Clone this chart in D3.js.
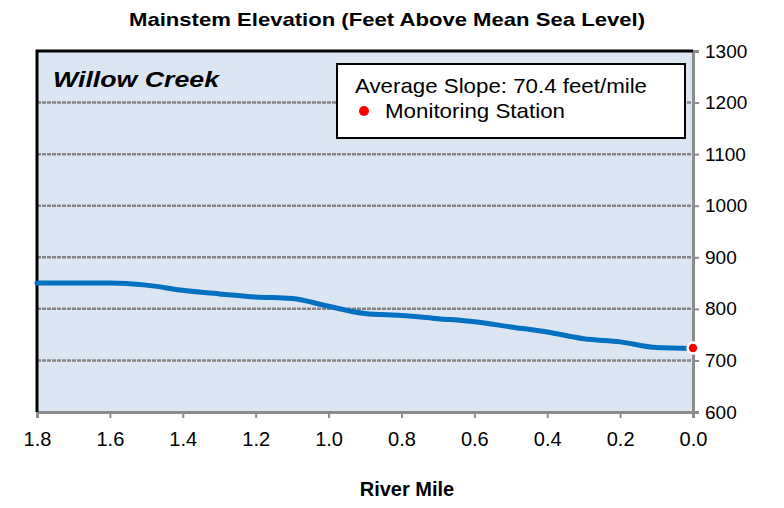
<!DOCTYPE html>
<html>
<head>
<meta charset="utf-8">
<script src="https://cdn.jsdelivr.net/npm/d3@7/dist/d3.min.js"></script>
<style>
  body { margin: 0; background: #fff; }
  text { font-family: "Liberation Sans", Arial, sans-serif; }
</style>
</head>
<body>
<svg id="chart" width="784" height="508"></svg>
<script>
// river mile vs elevation (feet)
var riverMile = [1.8, 1.7, 1.6, 1.5, 1.4, 1.3, 1.2, 1.1, 1.0, 0.9, 0.8, 0.7, 0.6, 0.5, 0.4, 0.3, 0.2, 0.1, 0.0];
var elevation = [850, 850, 850, 846, 836, 829, 823, 820, 805, 791, 787, 781, 775, 765, 755, 742, 736, 725, 723];
var stationMile = [0.0];
var stationElev = [724];
var xTicks = [1.8, 1.6, 1.4, 1.2, 1.0, 0.8, 0.6, 0.4, 0.2, 0.0];
var yTicks = [600, 700, 800, 900, 1000, 1100, 1200, 1300];

var svg = d3.select("#chart");
var plotLeft = 37, plotRight = 693, plotTop = 51, plotBottom = 412;

var x = d3.scaleLinear().domain([1.8, 0]).range([plotLeft, plotRight]);
var y = d3.scaleLinear().domain([600, 1300]).range([plotBottom, plotTop]);

// plot background
svg.append("rect")
  .attr("x", plotLeft).attr("y", plotTop)
  .attr("width", plotRight - plotLeft).attr("height", plotBottom - plotTop)
  .attr("fill", "#dce6f2");

// grid lines
svg.append("g")
  .selectAll("line")
  .data(yTicks.filter(function(d){ return d > 600 && d < 1300 }))
  .enter()
  .append("line")
    .attr("x1", plotLeft).attr("x2", plotRight)
    .attr("y1", function(d){ return y(d) })
    .attr("y2", function(d){ return y(d) })
    .attr("stroke", "#858585")
    .attr("stroke-width", 2.5)
    .attr("stroke-dasharray", "4,1");

// bottom axis
var xAxis = svg.append("g")
  .attr("transform", "translate(0," + plotBottom + ")")
  .call(d3.axisBottom(x).tickValues(xTicks).tickSize(6).tickFormat(d3.format(".1f")));
xAxis.select(".domain").attr("stroke", "#8c8c8c").attr("stroke-width", 3);
xAxis.selectAll(".tick line").attr("stroke", "#8c8c8c").attr("stroke-width", 2);
xAxis.selectAll(".tick text")
  .attr("y", 20)
  .style("font-size", "20px")
  .style("font-family", "Liberation Sans, Arial, sans-serif")
  .attr("fill", "#000");

// right axis
var yAxis = svg.append("g")
  .attr("transform", "translate(" + plotRight + ",0)")
  .call(d3.axisRight(y).tickValues(yTicks).tickSize(6).tickFormat(d3.format("d")));
yAxis.select(".domain").attr("stroke", "#8c8c8c").attr("stroke-width", 3);
yAxis.selectAll(".tick line").attr("stroke", "#8c8c8c").attr("stroke-width", 2);
yAxis.selectAll(".tick text")
  .attr("x", 12)
  .style("font-size", "19px")
  .style("font-family", "Liberation Sans, Arial, sans-serif")
  .attr("fill", "#000");

// black left and top border
svg.append("path")
  .attr("d", "M" + plotLeft + "," + plotBottom + "V" + plotTop + "H" + plotRight)
  .attr("fill", "none")
  .attr("stroke", "#000")
  .attr("stroke-width", 3);

// elevation line
var line = d3.line()
  .x(function(d){ return x(d[0]) })
  .y(function(d){ return y(d[1]) })
  .curve(d3.curveMonotoneX);

svg.append("path")
  .datum(riverMile.map(function(m, i){ return [m, elevation[i]] }))
  .attr("d", line)
  .attr("fill", "none")
  .attr("stroke", "#0070c0")
  .attr("stroke-width", 5)
  .attr("stroke-linecap", "round");

// monitoring station
svg.selectAll("circle.station")
  .data(stationMile)
  .enter()
  .append("circle")
    .attr("class", "station")
    .attr("cx", function(d){ return x(d) })
    .attr("cy", function(d, i){ return y(stationElev[i]) })
    .attr("r", 5.5)
    .attr("fill", "#ff0000")
    .attr("stroke", "#fff")
    .attr("stroke-width", 2.5);

// title
svg.append("text")
  .attr("x", 387).attr("y", 26)
  .attr("text-anchor", "middle")
  .style("font-size", "19px")
  .style("font-weight", "bold")
  .attr("textLength", 516)
  .attr("lengthAdjust", "spacingAndGlyphs")
  .text("Mainstem Elevation (Feet Above Mean Sea Level)");

// x axis title
svg.append("text")
  .attr("x", 407).attr("y", 496)
  .attr("text-anchor", "middle")
  .style("font-size", "20px")
  .style("font-weight", "bold")
  .text("River Mile");

// creek name
svg.append("text")
  .attr("x", 53).attr("y", 87)
  .style("font-size", "22px")
  .style("font-weight", "bold")
  .style("font-style", "italic")
  .attr("textLength", 166)
  .attr("lengthAdjust", "spacingAndGlyphs")
  .text("Willow Creek");

// legend box
var legend = svg.append("g");
legend.append("rect")
  .attr("x", 337).attr("y", 64)
  .attr("width", 348).attr("height", 74)
  .attr("fill", "#fff")
  .attr("stroke", "#000")
  .attr("stroke-width", 2);
legend.append("text")
  .attr("x", 355).attr("y", 93)
  .style("font-size", "21px")
  .attr("textLength", 292)
  .attr("lengthAdjust", "spacingAndGlyphs")
  .text("Average Slope: 70.4 feet/mile");
legend.append("circle")
  .attr("cx", 364).attr("cy", 111)
  .attr("r", 5)
  .attr("fill", "#ff0000");
legend.append("text")
  .attr("x", 385).attr("y", 118)
  .style("font-size", "21px")
  .attr("textLength", 180)
  .attr("lengthAdjust", "spacingAndGlyphs")
  .text("Monitoring Station");
</script>
</body>
</html>
